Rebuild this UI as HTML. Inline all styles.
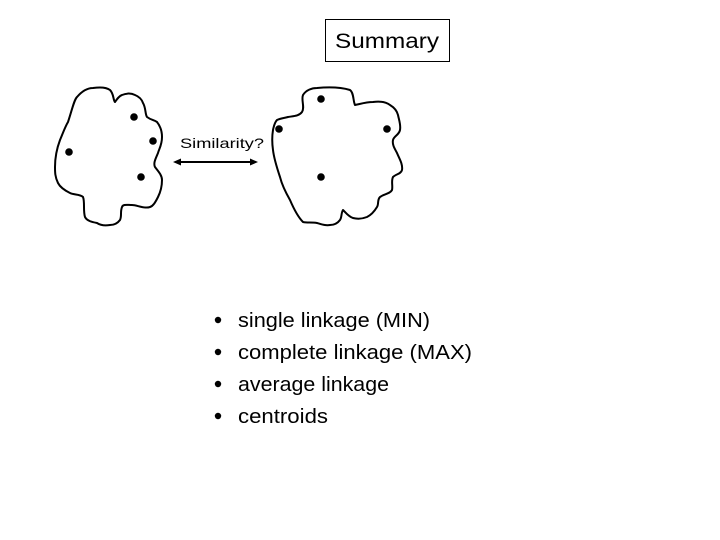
<!DOCTYPE html>
<html><head><style>html,body{margin:0;padding:0;background:#fff;}svg{display:block}</style></head>
<body>
<svg width="720" height="540" viewBox="0 0 720 540" xmlns="http://www.w3.org/2000/svg">
<rect x="325.5" y="19.5" width="124" height="42" fill="#fff" stroke="#000" stroke-width="1"/>
<text x="387" y="48" font-family="Liberation Sans, sans-serif" font-size="21" text-anchor="middle" textLength="104" lengthAdjust="spacingAndGlyphs">Summary</text>
<g fill="none" stroke="#000" stroke-width="2" stroke-linejoin="round">
<path d="M68,122 C72,110 74,100 77,97 C83,90 88,88 93,88 C100,87 106,87 110,90 C114,94 113,100 115,102 C117,99 119,96 122,95 C127,93 131,93 135,95 C140,97 142,100 143,103 C146,108 145,114 147,117 C151,120 154,120 157,122 C161,127 162,132 162,137 C162,145 159,149 158,153 C156,158 153,163 155,167 C158,171 162,175 162,180 C162,187 160,193 158,197 C155,203 153,206 150,207 C144,209 137,205 132,205 C127,205 123,204 122,207 C120,212 122,216 120,220 C117,224 113,225 110,225 C104,226 100,225 97,223 C92,222 87,221 85,217 C83,211 85,202 83,197 C80,194 74,195 70,193 C64,190 60,187 58,183 C55,177 55,172 55,167 C55,157 57,148 60,140 C63,133 65,127 68,122 Z"/>
<path d="M277,120 C281,118 285,118 288,117 C294,116 299,116 302,112 C305,107 301,100 303,95 C306,90 312,88 317,88 C328,87 340,87 350,90 C354,93 353,101 355,105 C360,104 366,102 373,102 C380,101 386,102 390,105 C395,108 397,111 398,115 C399,120 401,125 400,130 C399,135 394,136 393,140 C392,145 395,149 397,153 C399,158 403,164 402,170 C401,174 396,174 393,177 C391,181 393,186 392,190 C390,194 384,194 380,197 C377,200 379,204 377,207 C374,212 371,215 367,217 C362,219 357,219 353,218 C349,217 346,213 343,210 C341,213 342,217 340,220 C337,224 333,225 330,225 C325,226 321,224 317,223 C312,222 307,223 303,222 C297,216 293,207 290,200 C286,193 282,185 280,177 C277,168 274,159 273,150 C272,143 272,136 273,130 C274,125 275,122 277,120 Z"/>
</g>
<g fill="#000">
<circle cx="134" cy="117" r="3.8"/><circle cx="153" cy="141" r="3.8"/><circle cx="69" cy="152" r="3.8"/><circle cx="141" cy="177" r="3.8"/>
<circle cx="321" cy="99" r="3.8"/><circle cx="279" cy="129" r="3.8"/><circle cx="387" cy="129" r="3.8"/><circle cx="321" cy="177" r="3.8"/>
</g>
<text x="180" y="148" font-family="Liberation Sans, sans-serif" font-size="14" textLength="84" lengthAdjust="spacingAndGlyphs">Similarity?</text>
<line x1="177" y1="162" x2="254" y2="162" stroke="#000" stroke-width="2"/>
<path d="M173,162 L181,158.5 L181,165.5 Z M258,162 L250,158.5 L250,165.5 Z" fill="#000"/>
<g fill="#000">
<circle cx="218" cy="320" r="3.2"/><circle cx="218" cy="352" r="3.2"/><circle cx="218" cy="384" r="3.2"/><circle cx="218" cy="416" r="3.2"/>
</g>
<g font-family="Liberation Sans, sans-serif" font-size="20" fill="#000">
<text x="238" y="327" textLength="192" lengthAdjust="spacingAndGlyphs">single linkage (MIN)</text>
<text x="238" y="359" textLength="234" lengthAdjust="spacingAndGlyphs">complete linkage (MAX)</text>
<text x="238" y="391" textLength="151" lengthAdjust="spacingAndGlyphs">average linkage</text>
<text x="238" y="423" textLength="90" lengthAdjust="spacingAndGlyphs">centroids</text>
</g>
</svg>
</body></html>
